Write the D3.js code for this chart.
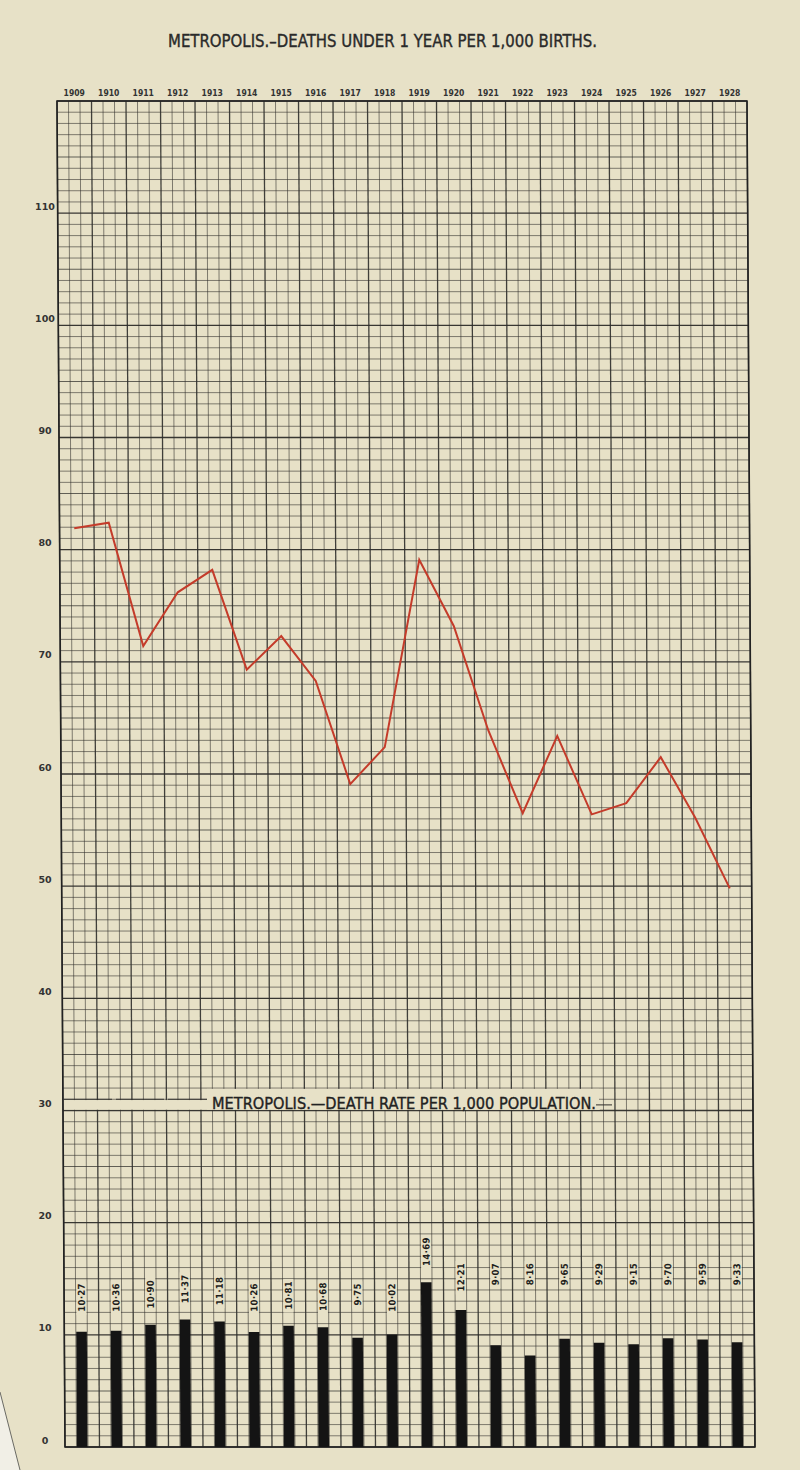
<!DOCTYPE html>
<html><head><meta charset="utf-8">
<script src="https://cdn.jsdelivr.net/npm/d3@7"></script>
<style>html,body{margin:0;padding:0;background:#e8e3ca;}</style>
</head><body><svg id="c" width="800" height="1470"></svg>
<script>
const years = [1909,1910,1911,1912,1913,1914,1915,1916,1917,1918,1919,1920,1921,1922,1923,1924,1925,1926,1927,1928];
const yearLabels = years.map(String);
const infantDeaths = [81.9,82.4,71.4,76.2,78.2,69.3,72.3,68.3,59.1,62.4,79.1,73.2,63.9,56.5,63.4,56.4,57.4,61.5,56.1,49.8];
const deathRate = [10.27,10.36,10.90,11.37,11.18,10.26,10.81,10.68,9.75,10.02,14.69,12.21,9.07,8.16,9.65,9.29,9.15,9.70,9.59,9.33];
const deathRateLabels = ["10·27","10·36","10·90","11·37","11·18","10·26","10·81","10·68","9·75","10·02","14·69","12·21","9·07","8·16","9·65","9·29","9·15","9·70","9·59","9·33"];
const yTicks = [0,10,20,30,40,50,60,70,80,90,100,110];
const title = "METROPOLIS.–DEATHS UNDER 1 YEAR PER 1,000 BIRTHS.";
const subtitle = "METROPOLIS.—DEATH RATE PER 1,000 POPULATION.";

const svg = d3.select('#c');
const W0 = 57, W1 = 747, T = 101, B = 1447;
const x = d3.scaleBand().domain(years).range([W0, W1]).padding(0);
const xCell = d3.scaleLinear().domain([0, 60]).range([W0, W1]);
const y = d3.scaleLinear().domain([0, 120]).range([B, T]);
const bw = x.bandwidth();
const cx = d => x(d) + bw / 2;
const ink = '#2e2d2a';
const paper = '#e7e1c7';
const condensed = '"DejaVu Sans Condensed","Liberation Sans Narrow","DejaVu Sans",sans-serif';

svg.append('rect').attr('width', 800).attr('height', 1470).attr('fill', paper);

// page corner
svg.append('path').attr('d', 'M0,1392 L20,1470 L0,1470 Z').attr('fill', '#f1efe6');
svg.append('line').attr('x1', 0).attr('y1', 1392).attr('x2', 20).attr('y2', 1470).attr('stroke', '#6a6a64').attr('stroke-width', 1);

// skewed grid group (scan distortion)
const g = svg.append('g').attr('transform', `translate(0,${T}) skewX(0.34) translate(0,${-T})`);

g.selectAll('line.h').data(d3.range(0, 121)).join('line').attr('class', 'h')
  .attr('x1', W0).attr('x2', W1).attr('y1', d => y(d)).attr('y2', d => y(d))
  .attr('stroke', ink)
  .attr('stroke-width', d => d % 10 === 0 ? 1.4 : (d % 5 === 0 ? 1.0 : 0.8))
  .attr('stroke-opacity', d => d % 10 === 0 ? 0.95 : 0.72);

g.selectAll('line.v').data(d3.range(0, 61)).join('line').attr('class', 'v')
  .attr('x1', d => xCell(d)).attr('x2', d => xCell(d)).attr('y1', T).attr('y2', B)
  .attr('stroke', ink)
  .attr('stroke-width', d => d % 3 === 0 ? 1.3 : 0.8)
  .attr('stroke-opacity', d => d % 3 === 0 ? 0.9 : 0.72);

g.append('rect').attr('x', W0).attr('y', T).attr('width', W1 - W0).attr('height', B - T)
  .attr('fill', 'none').attr('stroke', '#222').attr('stroke-width', 1.6);

// bars
g.selectAll('rect.bar').data(deathRate).join('rect').attr('class', 'bar')
  .attr('x', (d, i) => cx(years[i]) - 5.3).attr('width', 10.6)
  .attr('y', d => y(d)).attr('height', d => y(0) - y(d))
  .attr('fill', '#141414');

// bar labels
const lab = g.selectAll('g.bl').data(deathRate).join('g').attr('class', 'bl')
  .attr('transform', (d, i) => {
    const base = years[i] < 1919 ? 14.6 : 16.4;
    return `translate(${cx(years[i])},${y(Math.max(base, d + 4))}) rotate(-90)`;
  });
lab.append('rect').attr('fill', paper);
lab.append('text').attr('text-anchor', 'end').attr('dominant-baseline', 'central')
  .attr('font-family', condensed).attr('font-weight', 'bold').attr('font-size', 9.5)
  .attr('fill', '#1e1e1c').attr('letter-spacing', 0.3)
  .text((d, i) => deathRateLabels[i]);
lab.each(function () {
  const t = d3.select(this).select('text').node();
  const L = t.getComputedTextLength();
  d3.select(this).select('rect').attr('x', -L - 3).attr('y', -5).attr('width', L + 5).attr('height', 10);
});

// subtitle box
svg.append('rect').attr('x', 64).attr('y', y(31) + 0.8).attr('width', 536).attr('height', y(30) - y(31) - 1.6).attr('fill', paper);
svg.append('rect').attr('x', 207).attr('y', y(32) + 0.8).attr('width', 392).attr('height', y(30) - y(32) - 1.6).attr('fill', paper);
svg.append('line').attr('x1', 64).attr('x2', 207).attr('y1', y(31)).attr('y2', y(31)).attr('stroke', ink).attr('stroke-width', 0.9).attr('stroke-dasharray', '48,4');
svg.append('line').attr('x1', 596).attr('x2', 612).attr('y1', y(30.5)).attr('y2', y(30.5)).attr('stroke', ink).attr('stroke-width', 1);
svg.append('text').attr('x', 212).attr('y', 1108.5).attr('textLength', 384).attr('lengthAdjust', 'spacingAndGlyphs')
  .attr('font-family', condensed).attr('font-size', 16.5).attr('fill', '#222')
  .attr('stroke', '#222').attr('stroke-width', 0.35).text(subtitle);

// red line
svg.append('path').datum(infantDeaths)
  .attr('d', d3.line().x((d, i) => cx(years[i])).y(d => y(d)))
  .attr('fill', 'none').attr('stroke', '#c43b2a').attr('stroke-width', 2).attr('stroke-linejoin', 'miter');

// y labels
svg.selectAll('text.yl').data(yTicks).join('text').attr('class', 'yl')
  .attr('x', 45).attr('y', d => y(d) - 7).attr('dominant-baseline', 'central').attr('text-anchor', 'middle')
  .attr('font-family', '"DejaVu Sans",sans-serif').attr('font-weight', 'bold').attr('font-size', 9.5)
  .attr('fill', '#333').text(d => d);

// year labels
svg.selectAll('text.yr').data(years).join('text').attr('class', 'yr')
  .attr('x', d => cx(d)).attr('y', 96).attr('text-anchor', 'middle')
  .attr('font-family', condensed).attr('font-weight', 'bold').attr('font-size', 8.5)
  .attr('fill', '#333').text((d, i) => yearLabels[i]);

// title
svg.append('text').attr('x', 168).attr('y', 47).attr('textLength', 429).attr('lengthAdjust', 'spacingAndGlyphs')
  .attr('font-family', condensed).attr('font-size', 17).attr('fill', '#2a2a2a')
  .attr('stroke', '#2a2a2a').attr('stroke-width', 0.35).text(title);
</script></body></html>
